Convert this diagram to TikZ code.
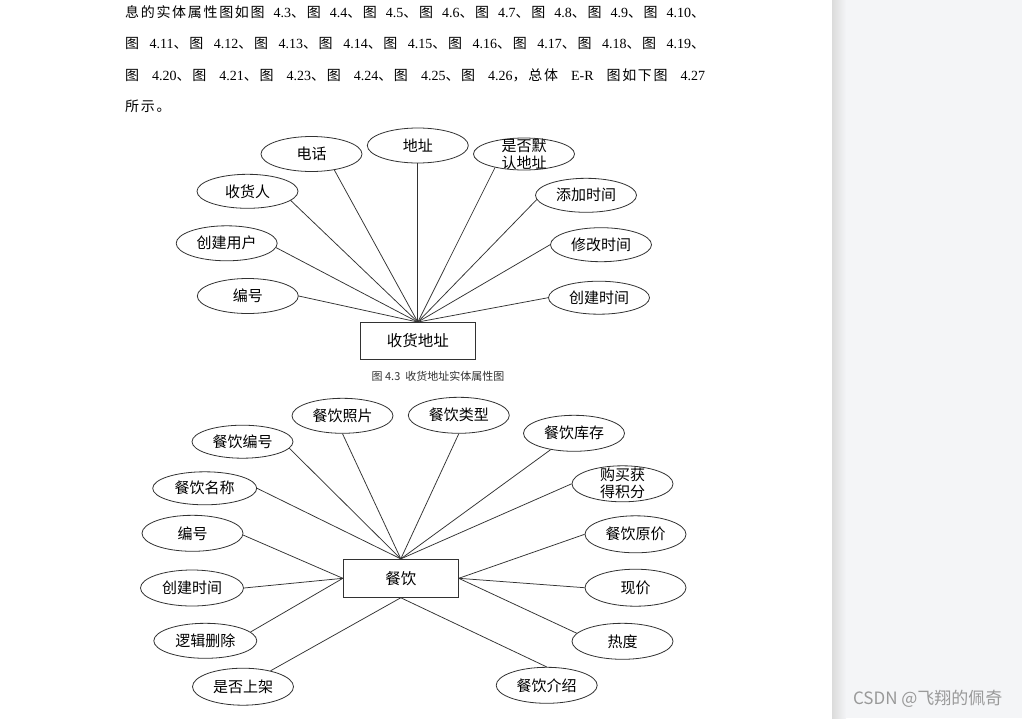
\documentclass[tikz,border=0pt]{standalone}
\usepackage{fontspec}
\setmainfont{Noto Sans CJK SC}
\newfontfamily\tnr{Liberation Serif}
\newfontfamily\bodycjk[LetterSpace=12]{Noto Sans CJK SC}
\usetikzlibrary{shapes.geometric}

\definecolor{sidegray}{RGB}{244,245,247}
\definecolor{inkgray}{RGB}{50,50,50}
\newcommand\tu[1]{图\hspace{2pt plus 1pt}{\tnr #1}}

\tikzset{
  attr/.style={draw=inkgray, ellipse, line width=0.8pt, minimum width=101pt, minimum height=35pt, inner sep=0pt, font=\fontsize{15}{17}\selectfont},
  entity/.style={draw=inkgray, line width=0.9pt, minimum width=115pt, minimum height=37pt, font=\fontsize{15.5}{17}\selectfont},
  link/.style={inkgray, line width=0.75pt},
  para/.style={anchor=base west, inner sep=0pt, font=\bodycjk\fontsize{14}{17}\selectfont}
}

\begin{document}
\begin{tikzpicture}[x=1pt,y=-1pt]
    % page and side panel
    \useasboundingbox (0,0) rectangle (1022,718);
    \fill[white] (0,0) rectangle (832,718);
    \fill[sidegray] (832,0) rectangle (1022,718);
    \shade[left color=black!14, right color=sidegray] (832,0) rectangle (846,718);

    % text above the figures
    \node[para] (l1) at (125,17.5) {\makebox[580pt][s]{息的实体属性图如\tu{4.3}、\tu{4.4}、\tu{4.5}、\tu{4.6}、\tu{4.7}、\tu{4.8}、\tu{4.9}、\tu{4.10}、}};
    \node[para] (l2) at (125,48.5) {\makebox[580pt][s]{\tu{4.11}、\tu{4.12}、\tu{4.13}、\tu{4.14}、\tu{4.15}、\tu{4.16}、\tu{4.17}、\tu{4.18}、\tu{4.19}、}};
    \node[para] (l3) at (125,80) {\makebox[580pt][s]{\tu{4.20}、\tu{4.21}、\tu{4.23}、\tu{4.24}、\tu{4.25}、\tu{4.26}，总体\hspace{2pt plus 1pt}{\tnr E-R}\hspace{2pt plus 1pt}图如下\tu{4.27}}};
    \node[para] (l4) at (125,111.5) {所示。};

    % figure 4.3
    \node[entity] (addr) at (417.8,341) {收货地址};
    \node[attr] (tel) at (311.5,154) {电话};
    \node[attr] (site) at (417.8,145.5) {地址};
    \node[attr, minimum height=32pt, label={[align=center, inner sep=0pt, font=\fontsize{15}{17}\selectfont]center:是否默\\认地址}] (dft) at (524,154) {};
    \node[attr, minimum height=34pt] (man) at (247.5,191.3) {收货人};
    \node[attr] (cuser) at (226.7,243.3) {创建用户};
    \node[attr] (aid) at (247.8,296) {编号};
    \node[attr, minimum height=34pt] (atime) at (586,195.3) {添加时间};
    \node[attr, minimum height=34pt] (mtime) at (601,244.7) {修改时间};
    \node[attr, minimum height=33pt] (ctime) at (599,297.7) {创建时间};
    \draw[link] (addr.north) -- (tel.325);
    \draw[link] (addr.north) -- (site.270);
    \draw[link] (addr.north) -- (dft.205);
    \draw[link] (addr.north) -- (man.348);
    \draw[link] (addr.north) -- (cuser.355);
    \draw[link] (addr.north) -- (aid.0);
    \draw[link] (addr.north) -- (atime.185);
    \draw[link] (addr.north) -- (mtime.180);
    \draw[link] (addr.north) -- (ctime.180);
    \node[text=inkgray, font=\fontsize{11}{12}\selectfont] (cap) at (438,376.5) {图 4.3\ \ 收货地址实体属性图};

    % food entity
    \node[entity, minimum height=38pt] (food) at (400.8,578.3) {餐饮};
    \node[attr, minimum height=33pt] (fno) at (242.5,441.7) {餐饮编号};
    \node[attr] (fpic) at (342.5,415.8) {餐饮照片};
    \node[attr, minimum height=33pt, minimum width=104pt] (fname) at (204.7,488.3) {餐饮名称};
    \node[attr, minimum height=36pt] (fid) at (192.5,533.3) {编号};
    \node[attr, minimum height=36pt, minimum width=103pt] (fct) at (192,588) {创建时间};
    \node[attr, minimum width=103pt] (fdel) at (205.3,640.8) {逻辑删除};
    \node[attr, minimum height=37pt] (fup) at (243,686.7) {是否上架};
    \node[attr, minimum height=36pt] (ftype) at (458.8,415.3) {餐饮类型};
    \node[attr, minimum height=36pt] (fstock) at (574,433.3) {餐饮库存};
    \node[attr, minimum height=36pt, label={[align=center, inner sep=0pt, font=\fontsize{15}{17}\selectfont]center:购买获\\得积分}] (fpts) at (622.5,483.8) {};
    \node[attr, minimum height=37pt] (fprice) at (635.5,534.3) {餐饮原价};
    \node[attr, minimum height=37pt] (fnow) at (635.5,587.7) {现价};
    \node[attr, minimum height=36pt] (fhot) at (622.5,641.3) {热度};
    \node[attr, minimum height=36pt] (fintro) at (546.7,685.3) {餐饮介绍};
    \draw[link] (food.north) -- (fno.352);
    \draw[link] (food.north) -- (fpic.270);
    \draw[link] (food.north) -- (fname.0);
    \draw[link] (food.north) -- (ftype.270);
    \draw[link] (food.north) -- (fstock.215);
    \draw[link] (food.north) -- (fpts.180);
    \draw[link] (food.west) -- (fid.358);
    \draw[link] (food.west) -- (fct.0);
    \draw[link] (food.west) -- (fdel.11);
    \draw[link] (food.south) -- (fup.30);
    \draw[link] (food.east) -- (fprice.180);
    \draw[link] (food.east) -- (fnow.180);
    \draw[link] (food.east) -- (fhot.170);
    \draw[link] (food.south) -- (fintro.90);

    \node[anchor=east, text=black!40, font=\fontsize{17}{19}\selectfont] (mark) at (1006,699) {CSDN @飞翔的佩奇};
\end{tikzpicture}
\end{document}
